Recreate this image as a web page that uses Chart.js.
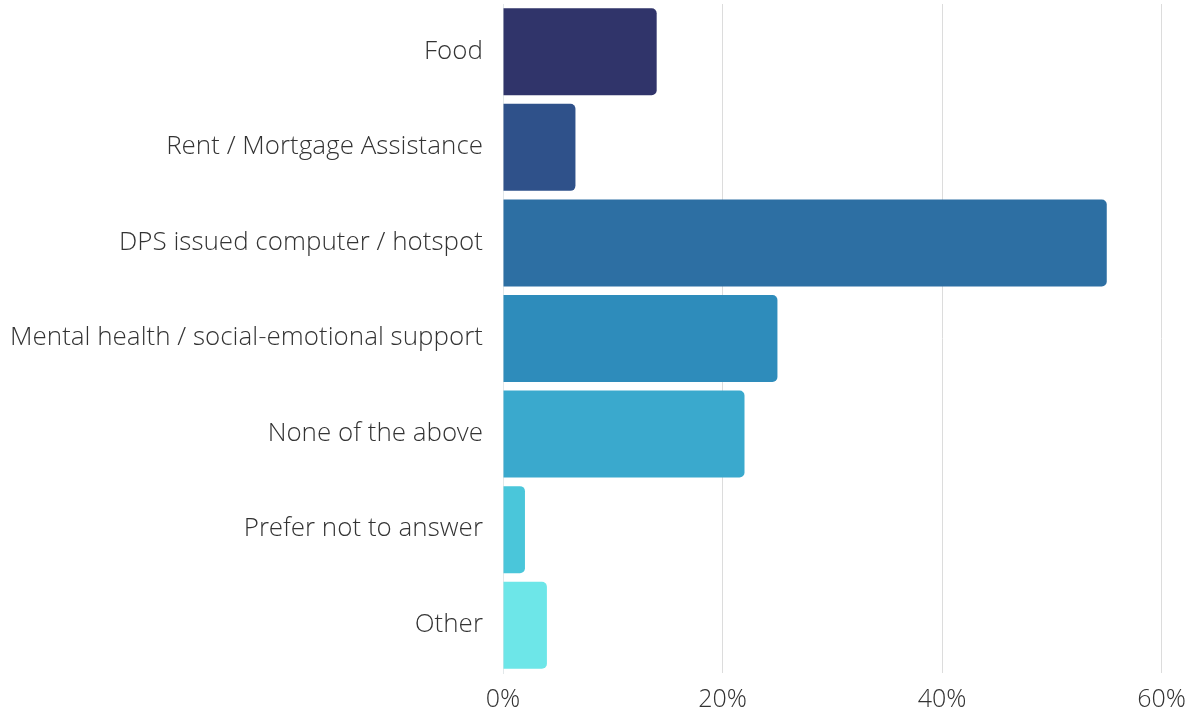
<!DOCTYPE html>
<html>
<head>
<meta charset="utf-8">
<script src="https://cdn.jsdelivr.net/npm/chart.js@4"></script>
<style>
  html, body { margin: 0; padding: 0; background: #fff; }
  #wrap { width: 1198px; height: 715px; }
</style>
</head>
<body>
<div id="wrap"><canvas id="supportChart"></canvas></div>
<script>
// survey answers (share of respondents, %)
const categories = [
  'Food',
  'Rent / Mortgage Assistance',
  'DPS issued computer / hotspot',
  'Mental health / social-emotional support',
  'None of the above',
  'Prefer not to answer',
  'Other'
];
const shares = [14, 6.6, 55, 25, 22, 2, 4];
const barColors = ['#30346a', '#2f518a', '#2d6fa3', '#2e8cbb', '#3aa9cd', '#4ac6da', '#6de6e8'];
const xTicks = [0, 20, 40, 60];

const FONT = "'Open Sans Light', 'Open Sans', sans-serif";

const ctx = document.getElementById('supportChart').getContext('2d');
const chart = new Chart(ctx, {
  type: 'bar',
  data: {
    labels: categories,
    datasets: [{
      data: shares,
      backgroundColor: barColors,
      borderRadius: { topRight: 5, bottomRight: 5 },
      borderSkipped: 'start',
      categoryPercentage: 1,
      barPercentage: 0.91
    }]
  },
  options: {
    indexAxis: 'y',
    responsive: true,
    maintainAspectRatio: false,
    animation: false,
    layout: { padding: { top: 4, right: 13, left: 0, bottom: 0 } },
    plugins: {
      legend: { display: false },
      tooltip: { enabled: false }
    },
    scales: {
      x: {
        min: 0,
        max: 60,
        afterBuildTicks: axis => { axis.ticks = xTicks.map(v => ({ value: v })); },
        afterFit: axis => { axis.height = 42; },
        grid: { color: '#dcdcdc', lineWidth: 1, drawTicks: false },
        border: { display: false },
        ticks: {
          color: '#333',
          padding: 12,
          font: { family: FONT, size: 25, weight: 300 },
          callback: v => v + '%'
        }
      },
      y: {
        afterFit: axis => {
          axis.width = 503;
          axis.paddingTop = 0;
          axis.paddingBottom = 0;
        },
        grid: { display: false, drawTicks: false },
        border: { display: true, color: '#e2e8ea' },
        ticks: {
          color: '#333',
          padding: 20,
          font: { family: FONT, size: 26, weight: 300 }
        }
      }
    }
  }
});
</script>
</body>
</html>
